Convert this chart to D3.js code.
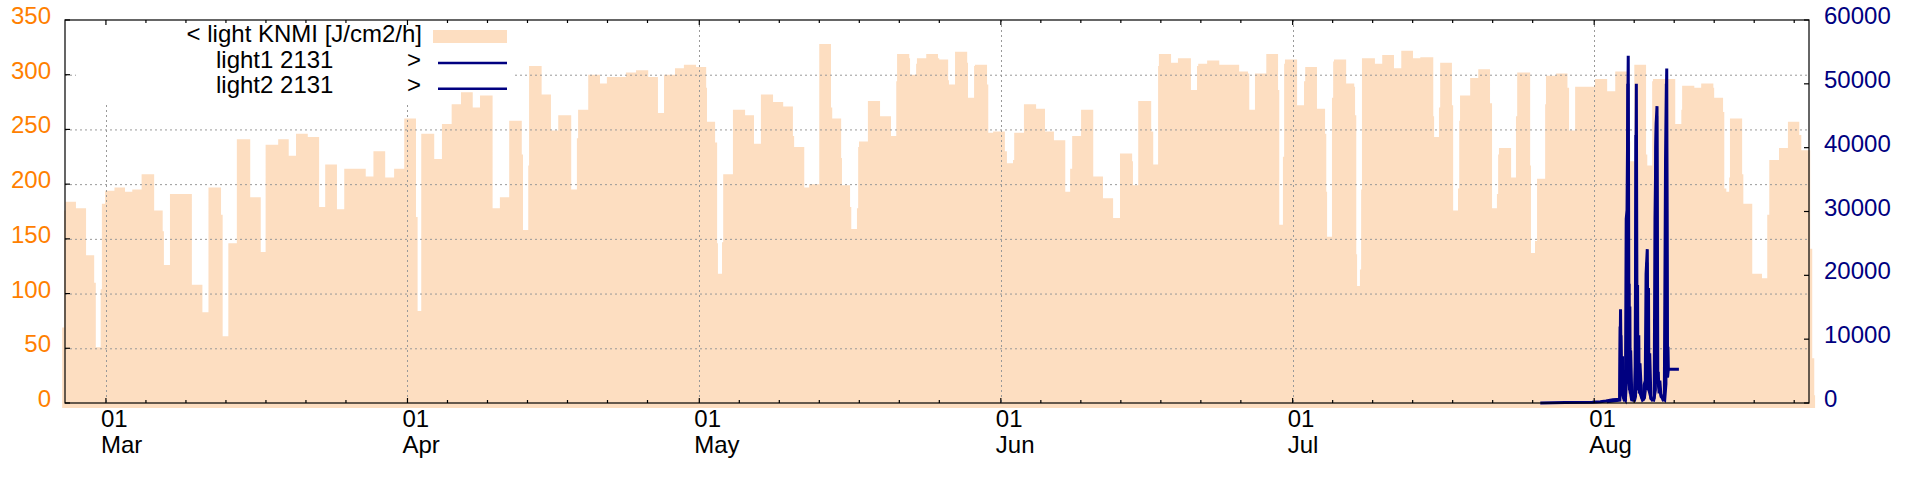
<!DOCTYPE html>
<html>
<head>
<meta charset="utf-8">
<script src="https://cdn.jsdelivr.net/npm/d3@7"></script>
<style>
  html, body { margin: 0; padding: 0; background: #fff; }
  svg { display: block; font-family: "Liberation Sans", Arial, sans-serif; }
</style>
</head>
<body>
<svg id="chart" width="1920" height="480"></svg>
<script>
// all times are hours since 1 March 2020 00:00 UTC

// KNMI light, drawn as steps: [hour, J/cm2/h]
const lightKnmi = [
  [-108, 69], [-103, 176], [-100, 184], [-74, 178], [-49, 135], [-29, 110], [-25, 51], [-13, 104], [-10, 182],
  [-2, 194], [21, 197], [47, 193], [65, 195], [88, 209], [119, 176], [140, 157], [143, 126], [158, 191],
  [212, 108], [238, 83], [253, 197], [284, 172], [288, 61], [302, 146], [323, 241], [356, 188], [382, 138],
  [394, 236], [425, 241], [451, 226], [469, 246], [498, 243], [526, 179], [541, 218], [570, 177], [588, 214],
  [641, 207], [660, 230], [689, 206], [711, 214], [736, 260], [765, 170], [769, 84], [778, 246], [810, 223],
  [829, 255], [853, 273], [876, 284], [905, 270], [923, 281], [954, 178], [972, 188], [995, 258], [1026, 227],
  [1029, 158], [1042, 217], [1044, 308], [1075, 282], [1098, 249], [1116, 263], [1148, 195], [1162, 242],
  [1165, 268], [1190, 300], [1219, 292], [1236, 298], [1283, 302], [1308, 304], [1338, 298], [1362, 265],
  [1377, 300], [1404, 306], [1426, 309], [1456, 307], [1481, 288], [1483, 257], [1503, 238], [1508, 146],
  [1510, 118], [1520, 147], [1523, 209], [1547, 268], [1577, 263], [1599, 237], [1616, 282], [1646, 275],
  [1671, 271], [1695, 244], [1698, 234], [1723, 197], [1735, 200], [1760, 328], [1789, 270], [1792, 260],
  [1814, 224], [1816, 199], [1836, 179], [1839, 159], [1853, 178], [1856, 234], [1858, 239], [1880, 276],
  [1910, 262], [1937, 244], [1950, 294], [1952, 319], [1982, 315], [1984, 300], [1999, 310], [2001, 315],
  [2024, 319], [2053, 315], [2056, 314], [2078, 295], [2080, 291], [2095, 321], [2125, 311], [2127, 279],
  [2142, 308], [2144, 309], [2174, 291], [2177, 247], [2189, 248], [2218, 230], [2223, 219], [2238, 222],
  [2241, 247], [2265, 273], [2295, 269], [2317, 248], [2339, 240], [2367, 193], [2379, 214], [2384, 244],
  [2406, 268], [2436, 207], [2460, 187], [2485, 169], [2502, 228], [2532, 221], [2534, 199], [2547, 276],
  [2579, 248], [2584, 218], [2596, 308], [2598, 319], [2628, 311], [2645, 315], [2677, 286], [2692, 308],
  [2695, 310], [2717, 313], [2747, 309], [2796, 303], [2818, 301], [2821, 268], [2835, 301], [2863, 319],
  [2892, 286], [2895, 163], [2904, 225], [2907, 310], [2909, 314], [2939, 272], [2956, 294], [2959, 307],
  [2988, 269], [3008, 246], [3011, 193], [3013, 152], [3025, 279], [3028, 312], [3030, 314], [3060, 292],
  [3080, 289], [3082, 263], [3085, 136], [3087, 107], [3094, 122], [3097, 195], [3099, 315], [3131, 310],
  [3149, 318], [3178, 306], [3196, 322], [3225, 315], [3243, 316], [3275, 262], [3277, 243], [3289, 270],
  [3292, 311], [3321, 272], [3324, 176], [3336, 196], [3339, 258], [3341, 281], [3366, 297], [3386, 305],
  [3415, 274], [3420, 178], [3432, 191], [3435, 227], [3437, 233], [3467, 206], [3479, 262], [3482, 302],
  [3514, 217], [3516, 137], [3526, 148], [3531, 205], [3551, 273], [3553, 299], [3578, 301], [3606, 288],
  [3610, 249], [3625, 289], [3674, 296], [3704, 285], [3724, 303], [3753, 239], [3761, 221], [3771, 309],
  [3800, 227], [3803, 217], [3815, 294], [3817, 296], [3872, 255], [3887, 268], [3889, 290], [3919, 288],
  [3936, 292], [3966, 288], [3968, 279], [3990, 266], [3993, 196], [3998, 193], [4005, 206], [4007, 260],
  [4037, 209], [4040, 182], [4062, 118], [4086, 114], [4099, 172], [4104, 222], [4128, 233], [4150, 257],
  [4178, 245], [4183, 231], [4205, 141], [4210, 41], [4215, 7], [4217, 0]
];

// sensor 2131, right axis: [hour, value]
const light1 = [
  [3539, 0], [3600, 80], [3667, 100], [3687, 200], [3701, 300], [3718, 500], [3735, 600], [3737, 14700],
  [3739, 2000], [3746, 470], [3749, 500], [3751, 28800], [3753, 30200], [3756, 54400], [3758, 3000],
  [3764, 600], [3767, 470], [3771, 450], [3773, 5700], [3776, 50000], [3778, 3000], [3788, 1000],
  [3791, 470], [3793, 600], [3795, 2800], [3798, 3500], [3800, 20200], [3803, 24100], [3805, 2500],
  [3812, 800], [3815, 470], [3818, 500], [3820, 800], [3822, 28900], [3825, 43900], [3827, 46500],
  [3829, 3000], [3837, 1200], [3842, 470], [3845, 500], [3848, 37900], [3851, 52400], [3853, 4000],
  [3855, 5300], [3881, 5300]
];
const light2 = [
  [3703, 200], [3735, 450], [3736, 12000], [3737, 3000], [3738, 10600], [3740, 2500], [3742, 7300],
  [3744, 900], [3749, 450], [3752, 4000], [3753, 26000], [3754, 3000], [3755, 50000], [3757, 3000],
  [3758, 18700], [3759, 2000], [3760, 15100], [3761, 1500], [3762, 8200], [3765, 500], [3772, 500],
  [3774, 1000], [3775, 42000], [3777, 3000], [3779, 18500], [3780, 2000], [3782, 10600], [3783, 1500],
  [3785, 6200], [3789, 900], [3794, 600], [3796, 800], [3799, 2500], [3801, 2000], [3802, 22000],
  [3804, 2500], [3806, 18000], [3807, 2000], [3809, 7800], [3812, 700], [3819, 500], [3823, 2000],
  [3824, 40000], [3826, 45000], [3828, 3000], [3830, 4900], [3832, 1500], [3834, 3500], [3837, 1000],
  [3846, 500], [3849, 3000], [3850, 50000], [3852, 4000], [3854, 8800], [3855, 5300], [3857, 5300]
];

const leftTicks = [0, 50, 100, 150, 200, 250, 300, 350];
const rightTicks = [0, 10000, 20000, 30000, 40000, 50000, 60000];
const monthStarts = ["2020-03-01", "2020-04-01", "2020-05-01", "2020-06-01", "2020-07-01", "2020-08-01"];
const legendKnmi = "< light KNMI [J/cm2/h]";
const legendSensors = ["light1 2131", "light2 2131"];

const T0 = Date.UTC(2020, 2, 1);
const MINOR_STEP = 98.7; // hours between minor x tics
const toDate = h => new Date(T0 + h * 3600e3);

const PEACH = "#fddec1", NAVY = "#000080", ORANGE = "#ff7f00";
const FONT = 24;

const svg = d3.select("#chart"),
  W = +svg.attr("width"),
  H = +svg.attr("height");
const margin = { top: 20, right: 111, bottom: 77, left: 65 };
const x0 = margin.left, x1 = W - margin.right,
  yTop = margin.top, yBot = H - margin.bottom;

const x = d3.scaleUtc().domain([toDate(-101), toDate(4202)]).range([x0, x1]);
const y = d3.scaleLinear().domain([0, 350]).range([yBot, yTop]);
const y2 = d3.scaleLinear().domain([0, 60000]).range([yBot, yTop]);

const months = monthStarts.map(s => new Date(s + "T00:00:00Z"));

// key box hides the grid behind it
const key = { x: 76, y: yTop, w: 439, h: 82 };
const mask = svg.append("defs").append("mask").attr("id", "keymask");
mask.append("rect").attr("width", W).attr("height", H).attr("fill", "#fff");
mask.append("rect").attr("x", key.x).attr("y", key.y).attr("width", key.w).attr("height", key.h).attr("fill", "#000");

// light KNMI area
const area = d3.area()
  .curve(d3.curveStepAfter)
  .x(d => x(toDate(d[0])))
  .y0(y(0) + 5)
  .y1(d => y(d[1]));

svg.append("path")
  .datum(lightKnmi)
  .attr("d", area)
  .attr("fill", PEACH);

// grid
const grid = svg.append("g")
  .attr("mask", "url(#keymask)")
  .attr("stroke", "#999")
  .attr("stroke-width", 1)
  .attr("stroke-dasharray", "2,3");

grid.selectAll("line.h")
  .data(leftTicks.filter(v => v > 0 && v < 350))
  .enter().append("line")
  .attr("x1", x0).attr("x2", x1)
  .attr("y1", d => y(d) + 0.5).attr("y2", d => y(d) + 0.5);

grid.selectAll("line.v")
  .data(months)
  .enter().append("line")
  .attr("x1", d => Math.round(x(d)) + 0.5).attr("x2", d => Math.round(x(d)) + 0.5)
  .attr("y1", yTop).attr("y2", yBot);

// sensor lines
const line = d3.line()
  .x(d => x(toDate(d[0])))
  .y(d => y2(d[1]));

svg.selectAll("path.sensor")
  .data([light1, light2])
  .enter().append("path")
  .attr("class", "sensor")
  .attr("d", line)
  .attr("fill", "none")
  .attr("stroke", NAVY)
  .attr("stroke-width", 3);

// border and tics
const axes = svg.append("g").attr("stroke", "#000").attr("stroke-width", 1.2);
axes.append("rect")
  .attr("x", x0).attr("y", yTop)
  .attr("width", x1 - x0).attr("height", yBot - yTop)
  .attr("fill", "none");

axes.selectAll("line.ly")
  .data(leftTicks)
  .enter().append("line")
  .attr("x1", x0).attr("x2", x0 + 5)
  .attr("y1", d => y(d)).attr("y2", d => y(d));

axes.selectAll("line.ry")
  .data(rightTicks)
  .enter().append("line")
  .attr("x1", x1).attr("x2", x1 - 5)
  .attr("y1", d => y2(d)).attr("y2", d => y2(d));

const minor = [];
months.forEach(m => {
  const next = d3.utcMonth.offset(m, 1);
  for (let k = 1; k <= 6; k++) {
    const t = new Date(+m + k * MINOR_STEP * 3600e3);
    if (t < next && x(t) < x1) minor.push(t);
  }
});

[[yBot, -1], [yTop, 1]].forEach(([yy, dir]) => {
  axes.append("g").selectAll("line")
    .data(months)
    .enter().append("line")
    .attr("x1", d => x(d)).attr("x2", d => x(d))
    .attr("y1", yy).attr("y2", yy + dir * 5);
  axes.append("g").selectAll("line")
    .data(minor)
    .enter().append("line")
    .attr("x1", d => x(d)).attr("x2", d => x(d))
    .attr("y1", yy).attr("y2", yy + dir * 3);
});

// tic labels
svg.append("g")
  .attr("font-size", FONT)
  .attr("fill", ORANGE)
  .attr("text-anchor", "end")
  .selectAll("text")
  .data(leftTicks)
  .enter().append("text")
  .attr("x", 51)
  .attr("y", d => y(d) + 4)
  .text(d => d);

svg.append("g")
  .attr("font-size", FONT)
  .attr("fill", NAVY)
  .selectAll("text")
  .data(rightTicks)
  .enter().append("text")
  .attr("x", x1 + 15)
  .attr("y", d => y2(d) + 4)
  .text(d => d);

const xl = svg.append("g").attr("font-size", FONT).attr("fill", "#000")
  .selectAll("text")
  .data(months)
  .enter().append("text")
  .attr("x", d => x(d) - 5)
  .attr("y", yBot + 24);
xl.append("tspan").text(d => d3.utcFormat("%d")(d));
xl.append("tspan")
  .attr("x", d => x(d) - 5)
  .attr("dy", 25.6)
  .text(d => d3.utcFormat("%b")(d));

// key
const legend = svg.append("g").attr("font-size", FONT).attr("fill", "#000");
legend.append("text")
  .attr("x", 422).attr("y", 41.5)
  .attr("text-anchor", "end")
  .text(legendKnmi);
legend.append("rect")
  .attr("x", 433).attr("y", 30)
  .attr("width", 74).attr("height", 13)
  .attr("fill", PEACH);

legendSensors.forEach((label, i) => {
  const by = 67.5 + i * 25.8;
  legend.append("text").attr("x", 216).attr("y", by).text(label);
  legend.append("text").attr("x", 421).attr("y", by).attr("text-anchor", "end").text(">");
  legend.append("line")
    .attr("x1", 438).attr("x2", 507)
    .attr("y1", by - 4.5).attr("y2", by - 4.5)
    .attr("stroke", NAVY).attr("stroke-width", 2.5);
});
</script>
</body>
</html>
